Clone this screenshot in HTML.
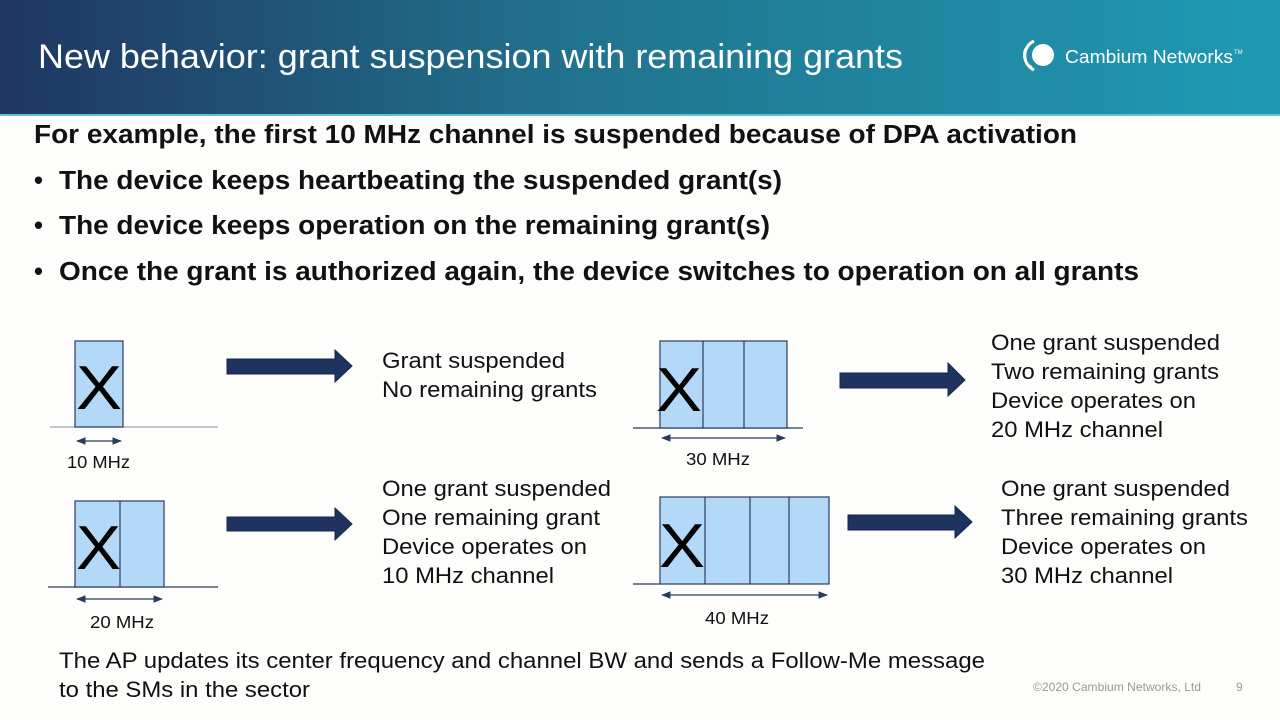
<!DOCTYPE html>
<html><head><meta charset="utf-8"><style>
body{margin:0;width:1280px;height:720px;overflow:hidden;background:#fdfdfb;font-family:"Liberation Sans",sans-serif;}
</style></head><body>
<svg width="1280" height="720" xmlns="http://www.w3.org/2000/svg" style="position:absolute;left:0;top:0">
<defs>
<linearGradient id="g" x1="0" x2="1" y1="0" y2="0">
<stop offset="0" stop-color="#1f3661"/><stop offset="0.45" stop-color="#21738f"/><stop offset="1" stop-color="#1f9ab3"/>
</linearGradient>
<marker id="ah" viewBox="0 0 10 10" refX="9" refY="5" markerWidth="8" markerHeight="8" orient="auto-start-reverse"><path d="M0,1 L10,5 L0,9 z" fill="#2b3b5e"/></marker>
</defs>
<rect x="0" y="0" width="1280" height="114" fill="url(#g)"/>
<rect x="0" y="114" width="1280" height="2" fill="#5fc3d3"/>
<text x="38" y="68" fill="#fff" font-size="34" textLength="865" lengthAdjust="spacingAndGlyphs">New behavior: grant suspension with remaining grants</text>
<g fill="#fff">
<circle cx="1043" cy="55" r="11"/>
<path d="M1034,41 a16,16 0 0 0 0,29" stroke="#fff" stroke-width="3" fill="none"/>
<path d="M1030,44 a13,13 0 0 0 2,23" stroke="#fff" stroke-width="2" fill="none"/>
<text x="1065" y="63" font-size="18" textLength="168" lengthAdjust="spacingAndGlyphs">Cambium Networks</text>
<text x="1234" y="54" font-size="6">TM</text>
</g>
<g font-weight="bold" font-size="25.5" fill="#111">
<text x="34" y="143" textLength="1043" lengthAdjust="spacingAndGlyphs">For example, the first 10 MHz channel is suspended because of DPA activation</text>
<text x="34" y="189">•</text><text x="59" y="189" textLength="723" lengthAdjust="spacingAndGlyphs">The device keeps heartbeating the suspended grant(s)</text>
<text x="34" y="234">•</text><text x="59" y="234" textLength="711" lengthAdjust="spacingAndGlyphs">The device keeps operation on the remaining grant(s)</text>
<text x="34" y="280">•</text><text x="59" y="280" textLength="1080" lengthAdjust="spacingAndGlyphs">Once the grant is authorized again, the device switches to operation on all grants</text>
</g>
<g stroke="#2b3b5e" stroke-width="1.2">
<line x1="50" y1="427" x2="218" y2="427" stroke="#9aa8b4"/>
<rect x="75" y="341" width="48" height="86" fill="#b4d8f8"/>
<line x1="77" y1="441" x2="121" y2="441" marker-start="url(#ah)" marker-end="url(#ah)"/>
<line x1="48" y1="587" x2="218" y2="587"/>
<rect x="75" y="501" width="89" height="86" fill="#b4d8f8"/>
<line x1="120" y1="501" x2="120" y2="587"/>
<line x1="77" y1="599" x2="162" y2="599" marker-start="url(#ah)" marker-end="url(#ah)"/>
<line x1="633" y1="428" x2="803" y2="428"/>
<rect x="660" y="341" width="127" height="87" fill="#b4d8f8"/>
<line x1="703" y1="341" x2="703" y2="428"/><line x1="744" y1="341" x2="744" y2="428"/>
<line x1="662" y1="438" x2="785" y2="438" marker-start="url(#ah)" marker-end="url(#ah)"/>
<line x1="633" y1="584" x2="660" y2="584"/>
<rect x="660" y="497" width="169" height="87" fill="#b4d8f8"/>
<line x1="705" y1="497" x2="705" y2="584"/><line x1="750" y1="497" x2="750" y2="584"/><line x1="789" y1="497" x2="789" y2="584"/>
<line x1="662" y1="595" x2="827" y2="595" marker-start="url(#ah)" marker-end="url(#ah)"/>
</g>
<g font-size="62" fill="#000">
<text x="76" y="409" textLength="46" lengthAdjust="spacingAndGlyphs">X</text><text x="76" y="569" textLength="45" lengthAdjust="spacingAndGlyphs">X</text>
<text x="656" y="411" textLength="46" lengthAdjust="spacingAndGlyphs">X</text><text x="659" y="567" textLength="46" lengthAdjust="spacingAndGlyphs">X</text>
</g>
<g font-size="17.5" fill="#111">
<text x="67" y="468" textLength="63" lengthAdjust="spacingAndGlyphs">10 MHz</text>
<text x="90" y="628" textLength="64" lengthAdjust="spacingAndGlyphs">20 MHz</text>
<text x="686" y="465" textLength="64" lengthAdjust="spacingAndGlyphs">30 MHz</text>
<text x="705" y="624" textLength="64" lengthAdjust="spacingAndGlyphs">40 MHz</text>
</g>
<g fill="#1f3360" stroke="#16254a" stroke-width="1">
<path d="M227,359 H335 V350 L352,366 L335,382 V374 H227 Z"/>
<path d="M227,517 H335 V508 L352,524 L335,540 V531 H227 Z"/>
<path d="M840,373 H948 V363 L965,380 L948,396 V388 H840 Z"/>
<path d="M848,515 H955 V506 L972,522 L955,538 V530 H848 Z"/>
</g>
<g font-size="22" fill="#111">
<text x="382" y="368" textLength="183" lengthAdjust="spacingAndGlyphs">Grant suspended</text>
<text x="382" y="397" textLength="215" lengthAdjust="spacingAndGlyphs">No remaining grants</text>
<text x="382" y="496" textLength="229" lengthAdjust="spacingAndGlyphs">One grant suspended</text>
<text x="382" y="525" textLength="218" lengthAdjust="spacingAndGlyphs">One remaining grant</text>
<text x="382" y="554" textLength="205" lengthAdjust="spacingAndGlyphs">Device operates on</text>
<text x="382" y="583" textLength="172" lengthAdjust="spacingAndGlyphs">10 MHz channel</text>
<text x="991" y="350" textLength="229" lengthAdjust="spacingAndGlyphs">One grant suspended</text>
<text x="991" y="379" textLength="228" lengthAdjust="spacingAndGlyphs">Two remaining grants</text>
<text x="991" y="408" textLength="205" lengthAdjust="spacingAndGlyphs">Device operates on</text>
<text x="991" y="437" textLength="172" lengthAdjust="spacingAndGlyphs">20 MHz channel</text>
<text x="1001" y="496" textLength="229" lengthAdjust="spacingAndGlyphs">One grant suspended</text>
<text x="1001" y="525" textLength="247" lengthAdjust="spacingAndGlyphs">Three remaining grants</text>
<text x="1001" y="554" textLength="205" lengthAdjust="spacingAndGlyphs">Device operates on</text>
<text x="1001" y="583" textLength="172" lengthAdjust="spacingAndGlyphs">30 MHz channel</text>
<text x="59" y="668" textLength="926" lengthAdjust="spacingAndGlyphs">The AP updates its center frequency and channel BW and sends a Follow-Me message</text>
<text x="59" y="697" textLength="251" lengthAdjust="spacingAndGlyphs">to the SMs in the sector</text>
</g>
<text x="1033" y="691" font-size="12" fill="#999" textLength="168" lengthAdjust="spacingAndGlyphs">©2020 Cambium Networks, Ltd</text>
<text x="1236" y="691" font-size="12" fill="#999">9</text>
</svg>
</body></html>
